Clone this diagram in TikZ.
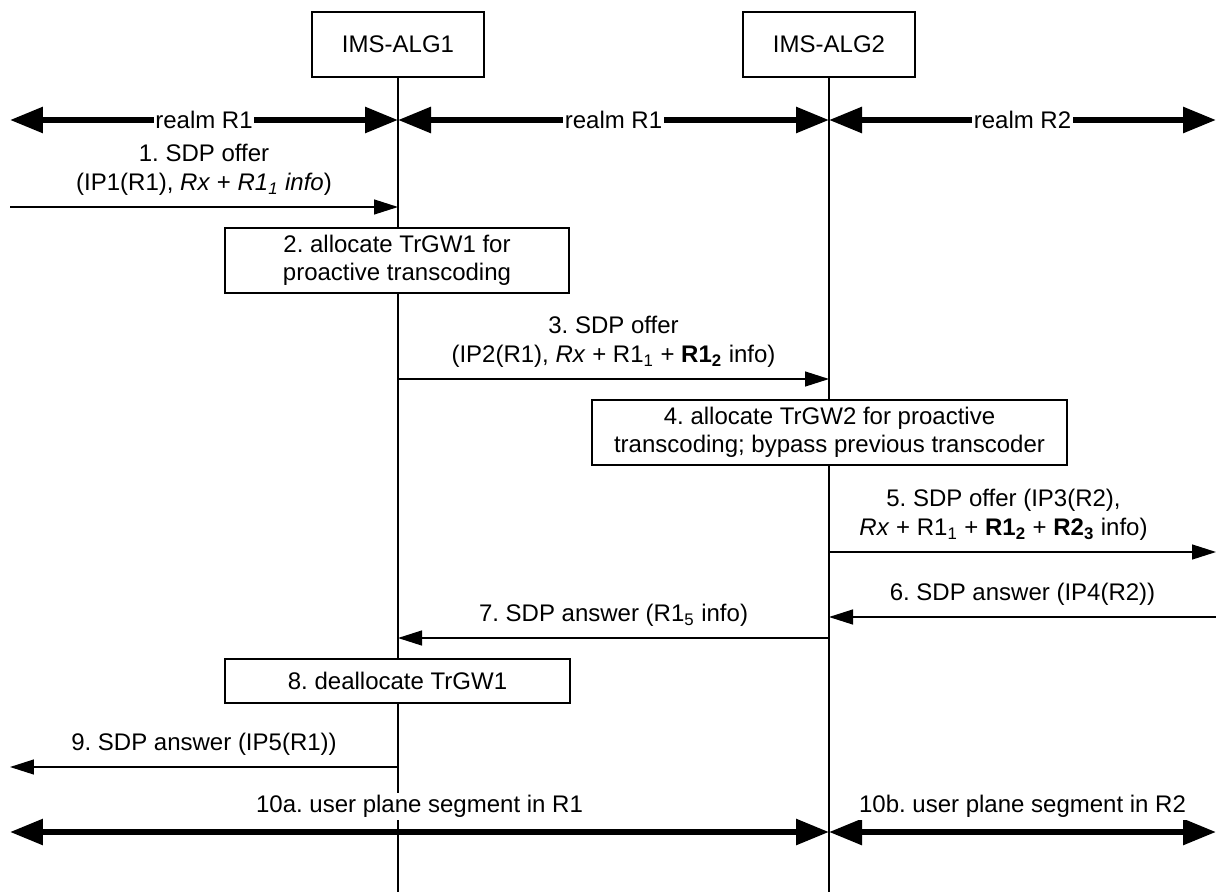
\documentclass[tikz,border=0pt]{standalone}
\usepackage{fontspec}
\setmainfont{Liberation Sans}
\usetikzlibrary{positioning,arrows.meta}
\frenchspacing

\begin{document}
\begin{tikzpicture}[
x=0.02cm,y=-0.02cm,
every node/.style={font=\fontsize{13.66}{16.2}\selectfont},
entity/.style={draw,line width=0.74pt,fill=white,minimum width=3.44cm,minimum height=1.3cm,inner sep=0pt},
action/.style={draw,line width=0.74pt,fill=white,minimum height=1.3cm,align=center,inner sep=0pt},
lifeline/.style={line width=0.74pt},
msg/.style={line width=0.74pt,-{Triangle[length=0.48cm,width=0.3cm]}},
realm/.style={line width=3.3pt,{Triangle[length=0.66cm,width=0.5cm]}-{Triangle[length=0.66cm,width=0.5cm]}},
realmtxt/.style={fill=white,inner sep=1pt},
msgtxt/.style={above=0.22cm,inner sep=0pt,align=center},
segtxt/.style={above=0.19cm,inner sep=1.14pt,fill=white}]
\useasboundingbox (0,0) rectangle (1216,892);
\node[entity] (alg1) at (398,44.5) {IMS-ALG1};
\node[entity] (alg2) at (829,44.5) {IMS-ALG2};
\coordinate (bottom) at (0,892);
\draw[lifeline] (alg1.south) -- (alg1.south |- bottom);
\draw[lifeline] (alg2.south) -- (alg2.south |- bottom);

% realms
\coordinate (r0) at (10,120);
\coordinate (r3) at (1216,120);
\draw[realm] (r0) -- (r0 -| alg1) node[midway,realmtxt] {realm R1};
\draw[realm] (r0 -| alg1) -- (r0 -| alg2) node[midway,realmtxt] {realm R1};
\draw[realm] (r0 -| alg2) -- (r3) node[midway,realmtxt] {realm R2};

% offer
\coordinate (m1) at (10,207);
\draw[msg] (m1) -- (m1 -| alg1) node[midway,msgtxt] {1. SDP offer\\(IP1(R1), \textit{Rx} + \textit{R1\textsubscript{1} info})};
\node[action,minimum width=6.88cm] (trgw1) at (397,260.5) {2. allocate TrGW1 for\\proactive transcoding};
\coordinate (m3) at (0,379);
\draw[msg] (m3 -| alg1) -- (m3 -| alg2) node[midway,msgtxt] {3. SDP offer\\(IP2(R1), \textit{Rx} + R1\textsubscript{1} + \textbf{R1\textsubscript{2}} info)};
\node[action,minimum width=9.5cm] (trgw2) at (829.5,432.5) {4. allocate TrGW2 for proactive\\transcoding; bypass previous transcoder};
\coordinate (m5) at (1216,552);
\draw[msg] (m5 -| alg2) -- (m5) node[midway,msgtxt,xshift=-0.38cm] {5. SDP offer (IP3(R2),\\\textit{Rx} + R1\textsubscript{1} + \textbf{R1\textsubscript{2}} + \textbf{R2\textsubscript{3}} info)};

% answer
\coordinate (m6) at (1216,617);
\draw[msg] (m6) -- (m6 -| alg2) node[midway,msgtxt] {6. SDP answer (IP4(R2))};
\coordinate (m7) at (0,638);
\draw[msg] (m7 -| alg2) -- (m7 -| alg1) node[midway,msgtxt] {7. SDP answer (R1\textsubscript{5} info)};
\node[action,minimum width=6.9cm,minimum height=0.88cm] (free1) at (397.5,681) {8. deallocate TrGW1};
\coordinate (m9) at (10,767);
\draw[msg] (m9 -| alg1) -- (m9) node[midway,msgtxt] {9. SDP answer (IP5(R1))};

% user plane
\coordinate (u0) at (10,832);
\coordinate (u3) at (1216,832);
\draw[realm] (u0) -- (u0 -| alg2) node[midway,segtxt] {10a. user plane segment in R1};
\draw[realm] (u0 -| alg2) -- (u3) node[midway,segtxt] {10b. user plane segment in R2};
\end{tikzpicture}
\end{document}
